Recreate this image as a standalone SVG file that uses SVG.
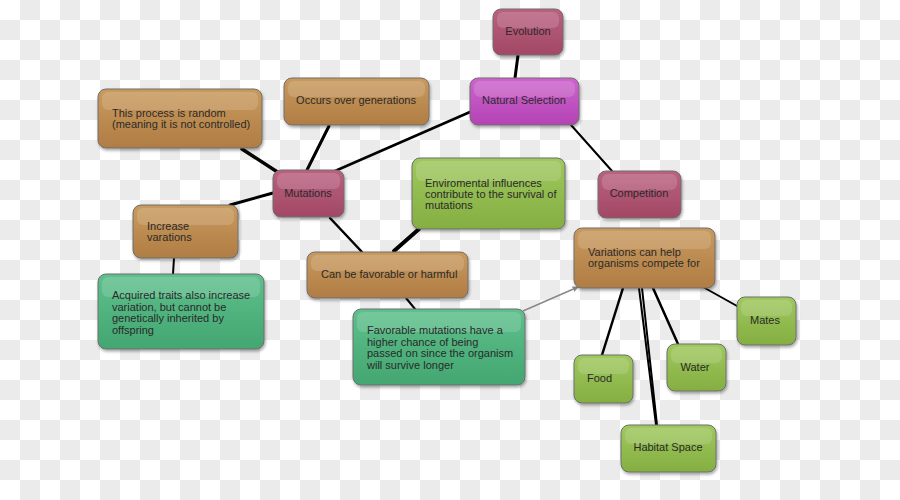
<svg xmlns="http://www.w3.org/2000/svg" width="900" height="500" viewBox="0 0 900 500">
<defs>
<pattern id="chk" width="40" height="40" patternUnits="userSpaceOnUse">
<rect width="40" height="40" fill="#ffffff"/>
<rect x="20" y="0" width="20" height="20" fill="#ebebeb"/>
<rect x="0" y="20" width="20" height="20" fill="#ebebeb"/>
</pattern>
<linearGradient id="gBrown" x1="0" y1="0" x2="0" y2="1"><stop offset="0" stop-color="#c99a5e"/><stop offset="1" stop-color="#b07d44"/></linearGradient>
<linearGradient id="gMaroon" x1="0" y1="0" x2="0" y2="1"><stop offset="0" stop-color="#ba6180"/><stop offset="1" stop-color="#a24865"/></linearGradient>
<linearGradient id="gPurple" x1="0" y1="0" x2="0" y2="1"><stop offset="0" stop-color="#cd64cd"/><stop offset="1" stop-color="#b443b4"/></linearGradient>
<linearGradient id="gGreen" x1="0" y1="0" x2="0" y2="1"><stop offset="0" stop-color="#9fc85e"/><stop offset="1" stop-color="#85ae42"/></linearGradient>
<linearGradient id="gTeal" x1="0" y1="0" x2="0" y2="1"><stop offset="0" stop-color="#5ec08c"/><stop offset="1" stop-color="#43a671"/></linearGradient>
<filter id="sh" x="-10%" y="-10%" width="125%" height="135%"><feDropShadow dx="1" dy="2" stdDeviation="1.5" flood-color="#000" flood-opacity="0.35"/></filter>
<marker id="arr" viewBox="0 0 10 10" refX="9" refY="5" markerWidth="6" markerHeight="6" orient="auto" markerUnits="userSpaceOnUse"><path d="M0,0 L10,5 L0,10 z" fill="#888"/></marker>
<style>
.box{stroke:#6e6e6e;stroke-width:1;filter:url(#sh);}
.brown{fill:url(#gBrown);}
.maroon{fill:url(#gMaroon);}
.purple{fill:url(#gPurple);}
.green{fill:url(#gGreen);}
.teal{fill:url(#gTeal);}
.gloss{fill:#ffffff;fill-opacity:0.15;}
text{font-family:"Liberation Sans",Arial,sans-serif;font-size:11px;fill:#2a2a2a;}
.c{text-anchor:middle;}
.ln{stroke:#000;fill:none;stroke-linecap:round;}
</style>
</defs>
<rect width="900" height="500" fill="url(#chk)"/>
<g id="connectors">
<line class="ln" x1="518" y1="55" x2="515" y2="78" stroke-width="3"/>
<line class="ln" x1="470" y1="112" x2="335" y2="171" stroke-width="2.5"/>
<line class="ln" x1="571" y1="125" x2="612" y2="171" stroke-width="2"/>
<line class="ln" x1="329" y1="126" x2="307" y2="170" stroke-width="3"/>
<line class="ln" x1="242" y1="149" x2="279" y2="173" stroke-width="3.5"/>
<line class="ln" x1="230" y1="205" x2="273" y2="193" stroke-width="3"/>
<line class="ln" x1="174" y1="258" x2="173" y2="274" stroke-width="2"/>
<line class="ln" x1="330" y1="218" x2="362" y2="252" stroke-width="2.5"/>
<line class="ln" x1="419" y1="229" x2="394" y2="251" stroke-width="4"/>
<line class="ln" x1="406" y1="298" x2="415" y2="309" stroke-width="2"/>
<line x1="523" y1="311" x2="578" y2="287" stroke="#888" stroke-width="1.5" marker-end="url(#arr)"/>
<line class="ln" x1="623" y1="288" x2="602" y2="355" stroke-width="2.5"/>
<line class="ln" x1="639" y1="288" x2="656" y2="425" stroke-width="2"/>
<line class="ln" x1="642" y1="288" x2="657" y2="425" stroke-width="2"/>
<line class="ln" x1="653" y1="288" x2="678" y2="344" stroke-width="2.5"/>
<line class="ln" x1="703" y1="287" x2="737" y2="306" stroke-width="2"/>
</g>
<g id="evolution">
<rect class="box maroon" x="493" y="9" width="70" height="46" rx="8"/>
<rect class="gloss" x="497" y="12" width="62" height="16" rx="6"/>
<text class="c" x="528" y="35">Evolution</text>
</g>
<g id="natural-selection">
<rect class="box purple" x="470" y="78" width="109" height="47" rx="8"/>
<rect class="gloss" x="474" y="81" width="101" height="16" rx="6"/>
<text class="c" x="524" y="104">Natural Selection</text>
</g>
<g id="occurs">
<rect class="box brown" x="284" y="78" width="145" height="47" rx="8"/>
<rect class="gloss" x="288" y="81" width="137" height="16" rx="6"/>
<text class="c" x="356" y="104">Occurs over generations</text>
</g>
<g id="random">
<rect class="box brown" x="98" y="89" width="164" height="59" rx="8"/>
<rect class="gloss" x="102" y="92" width="156" height="18" rx="6"/>
<text x="112" y="117">This process is random</text>
<text x="112" y="128">(meaning it is not controlled)</text>
</g>
<g id="mutations">
<rect class="box maroon" x="273" y="170" width="71" height="47" rx="8"/>
<rect class="gloss" x="277" y="173" width="63" height="16" rx="6"/>
<text class="c" x="308" y="197">Mutations</text>
</g>
<g id="increase">
<rect class="box brown" x="133" y="205" width="105" height="53" rx="8"/>
<rect class="gloss" x="137" y="208" width="97" height="17" rx="6"/>
<text x="147" y="230">Increase</text>
<text x="147" y="241">varations</text>
</g>
<g id="acquired">
<rect class="box teal" x="98" y="274" width="166" height="75" rx="8"/>
<rect class="gloss" x="102" y="277" width="158" height="20" rx="6"/>
<text x="112" y="299">Acquired traits also increase</text>
<text x="112" y="310.5">variation, but cannot be</text>
<text x="112" y="322">genetically inherited by</text>
<text x="112" y="333.5">offspring</text>
</g>
<g id="environmental">
<rect class="box green" x="412" y="158" width="153" height="71" rx="8"/>
<rect class="gloss" x="416" y="161" width="145" height="20" rx="6"/>
<text x="425" y="187">Enviromental influences</text>
<text x="425" y="198">contribute to the survival of</text>
<text x="425" y="209">mutations</text>
</g>
<g id="favorable-harmful">
<rect class="box brown" x="307" y="252" width="161" height="46" rx="8"/>
<rect class="gloss" x="311" y="255" width="153" height="16" rx="6"/>
<text x="321" y="278">Can be favorable or harmful</text>
</g>
<g id="favorable-mutations">
<rect class="box teal" x="353" y="309" width="172" height="76" rx="8"/>
<rect class="gloss" x="357" y="312" width="164" height="20" rx="6"/>
<text x="367" y="334">Favorable mutations have a</text>
<text x="367" y="345.5">higher chance of being</text>
<text x="367" y="357">passed on since the organism</text>
<text x="367" y="368.5">will survive longer</text>
</g>
<g id="competition">
<rect class="box maroon" x="598" y="171" width="83" height="47" rx="8"/>
<rect class="gloss" x="602" y="174" width="75" height="16" rx="6"/>
<text class="c" x="639" y="197">Competition</text>
</g>
<g id="variations">
<rect class="box brown" x="574" y="228" width="141" height="60" rx="8"/>
<rect class="gloss" x="578" y="231" width="133" height="18" rx="6"/>
<text x="588" y="256">Variations can help</text>
<text x="588" y="267">organisms compete for</text>
</g>
<g id="mates">
<rect class="box green" x="737" y="297" width="59" height="48" rx="8"/>
<rect class="gloss" x="741" y="300" width="51" height="16" rx="6"/>
<text class="c" x="765" y="324">Mates</text>
</g>
<g id="water">
<rect class="box green" x="667" y="344" width="59" height="47" rx="8"/>
<rect class="gloss" x="671" y="347" width="51" height="16" rx="6"/>
<text class="c" x="695" y="371">Water</text>
</g>
<g id="food">
<rect class="box green" x="574" y="355" width="59" height="48" rx="8"/>
<rect class="gloss" x="578" y="358" width="51" height="16" rx="6"/>
<text x="587" y="382">Food</text>
</g>
<g id="habitat">
<rect class="box green" x="621" y="425" width="95" height="47" rx="8"/>
<rect class="gloss" x="625" y="428" width="87" height="16" rx="6"/>
<text class="c" x="668" y="451">Habitat Space</text>
</g>
</svg>
